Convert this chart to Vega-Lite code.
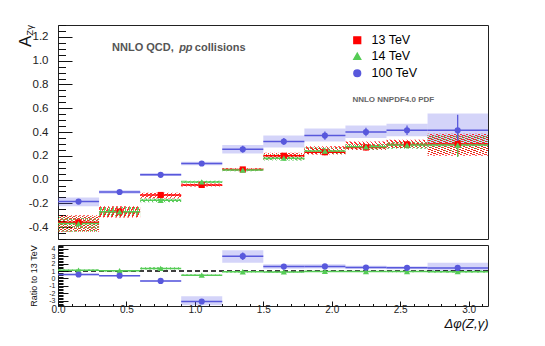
{
"$schema": "https://vega.github.io/schema/vega-lite/v6.json",
"padding": {"left": 16, "top": 24, "right": 5, "bottom": 5},
"spacing": 4,
"resolve": {"legend": {"color": "independent", "shape": "independent"}},
"config": {"view": {"stroke": "#222", "strokeWidth": 1}, "font": "Liberation Sans",
  "legend": {"orient": "none", "legendX": 293, "legendY": 9},
  "axis": {"grid": false, "labelFont": "Liberation Sans", "titleFont": "Liberation Sans", "labelColor": "#222", "tickColor": "#111", "titleColor": "#111", "titleFontWeight": "normal"}},
"data": {"values": [
{"s":"13 TeV","lo":0,"hi":0.3,"x":0.15,"v":-0.36,"elo":-0.37,"ehi":-0.35,"blo":-0.44,"bhi":-0.30},
{"s":"13 TeV","lo":0.3,"hi":0.6,"x":0.45,"v":-0.27,"elo":-0.28,"ehi":-0.26,"blo":-0.32,"bhi":-0.225},
{"s":"13 TeV","lo":0.6,"hi":0.9,"x":0.75,"v":-0.13,"elo":-0.14,"ehi":-0.12,"blo":-0.16,"bhi":-0.11},
{"s":"13 TeV","lo":0.9,"hi":1.2,"x":1.05,"v":-0.045,"elo":-0.053,"ehi":-0.037,"blo":-0.058,"bhi":-0.033},
{"s":"13 TeV","lo":1.2,"hi":1.5,"x":1.35,"v":0.085,"elo":0.075,"ehi":0.095,"blo":0.075,"bhi":0.095},
{"s":"13 TeV","lo":1.5,"hi":1.8,"x":1.65,"v":0.20,"elo":0.18,"ehi":0.22,"blo":0.17,"bhi":0.225},
{"s":"13 TeV","lo":1.8,"hi":2.1,"x":1.95,"v":0.23,"elo":0.205,"ehi":0.255,"blo":0.21,"bhi":0.28},
{"s":"13 TeV","lo":2.1,"hi":2.4,"x":2.25,"v":0.27,"elo":0.245,"ehi":0.295,"blo":0.25,"bhi":0.32},
{"s":"13 TeV","lo":2.4,"hi":2.7,"x":2.55,"v":0.295,"elo":0.265,"ehi":0.325,"blo":0.265,"bhi":0.335},
{"s":"13 TeV","lo":2.7,"hi":3.1416,"x":2.92,"v":0.30,"elo":0.21,"ehi":0.39,"blo":0.20,"bhi":0.385},
{"s":"14 TeV","lo":0,"hi":0.3,"x":0.15,"v":-0.37,"elo":-0.38,"ehi":-0.36,"blo":-0.44,"bhi":-0.31,"r":1.1,"relo":1.05,"rehi":1.15,"rblo":1.0,"rbhi":1.2},
{"s":"14 TeV","lo":0.3,"hi":0.6,"x":0.45,"v":-0.27,"elo":-0.28,"ehi":-0.26,"blo":-0.31,"bhi":-0.23,"r":1.05,"relo":1.0,"rehi":1.1,"rblo":0.95,"rbhi":1.15},
{"s":"14 TeV","lo":0.6,"hi":0.9,"x":0.75,"v":-0.175,"elo":-0.185,"ehi":-0.165,"blo":-0.19,"bhi":-0.16,"r":1.35,"relo":1.3,"rehi":1.4,"rblo":1.2,"rbhi":1.5},
{"s":"14 TeV","lo":0.9,"hi":1.2,"x":1.05,"v":-0.02,"elo":-0.028,"ehi":-0.012,"blo":-0.03,"bhi":-0.01,"r":0.45,"relo":0.4,"rehi":0.5,"rblo":0.35,"rbhi":0.55},
{"s":"14 TeV","lo":1.2,"hi":1.5,"x":1.35,"v":0.08,"elo":0.07,"ehi":0.09,"blo":0.07,"bhi":0.09,"r":0.9,"relo":0.85,"rehi":0.95,"rblo":0.82,"rbhi":0.98},
{"s":"14 TeV","lo":1.5,"hi":1.8,"x":1.65,"v":0.18,"elo":0.16,"ehi":0.20,"blo":0.16,"bhi":0.21,"r":0.88,"relo":0.8,"rehi":0.96,"rblo":0.8,"rbhi":0.98},
{"s":"14 TeV","lo":1.8,"hi":2.1,"x":1.95,"v":0.24,"elo":0.215,"ehi":0.265,"blo":0.215,"bhi":0.27,"r":0.95,"relo":0.87,"rehi":1.03,"rblo":0.87,"rbhi":1.05},
{"s":"14 TeV","lo":2.1,"hi":2.4,"x":2.25,"v":0.275,"elo":0.25,"ehi":0.30,"blo":0.25,"bhi":0.30,"r":0.93,"relo":0.86,"rehi":1.0,"rblo":0.86,"rbhi":1.02},
{"s":"14 TeV","lo":2.4,"hi":2.7,"x":2.55,"v":0.29,"elo":0.26,"ehi":0.32,"blo":0.26,"bhi":0.32,"r":0.93,"relo":0.86,"rehi":1.0,"rblo":0.85,"rbhi":1.02},
{"s":"14 TeV","lo":2.7,"hi":3.1416,"x":2.92,"v":0.29,"elo":0.19,"ehi":0.39,"blo":0.22,"bhi":0.37,"r":0.92,"relo":0.7,"rehi":1.15,"rblo":0.8,"rbhi":1.08},
{"s":"100 TeV","lo":0,"hi":0.3,"x":0.15,"v":-0.185,"elo":-0.195,"ehi":-0.175,"blo":-0.225,"bhi":-0.15,"r":0.53,"relo":0.48,"rehi":0.58,"rblo":0.4,"rbhi":0.65},
{"s":"100 TeV","lo":0.3,"hi":0.6,"x":0.45,"v":-0.105,"elo":-0.115,"ehi":-0.095,"blo":-0.12,"bhi":-0.09,"r":0.38,"relo":0.33,"rehi":0.43,"rblo":0.3,"rbhi":0.45},
{"s":"100 TeV","lo":0.6,"hi":0.9,"x":0.75,"v":0.04,"elo":0.03,"ehi":0.05,"blo":0.03,"bhi":0.055,"r":-0.33,"relo":-0.38,"rehi":-0.28,"rblo":-0.45,"rbhi":-0.25},
{"s":"100 TeV","lo":0.9,"hi":1.2,"x":1.05,"v":0.135,"elo":0.125,"ehi":0.145,"blo":0.12,"bhi":0.15,"r":-3.1,"relo":-3.3,"rehi":-2.9,"rblo":-3.6,"rbhi":-2.4},
{"s":"100 TeV","lo":1.2,"hi":1.5,"x":1.35,"v":0.255,"elo":0.225,"ehi":0.285,"blo":0.22,"bhi":0.29,"r":3.0,"relo":2.5,"rehi":3.5,"rblo":2.1,"rbhi":3.8},
{"s":"100 TeV","lo":1.5,"hi":1.8,"x":1.65,"v":0.32,"elo":0.29,"ehi":0.35,"blo":0.27,"bhi":0.37,"r":1.6,"relo":1.45,"rehi":1.75,"rblo":1.3,"rbhi":1.9},
{"s":"100 TeV","lo":1.8,"hi":2.1,"x":1.95,"v":0.37,"elo":0.335,"ehi":0.405,"blo":0.32,"bhi":0.43,"r":1.62,"relo":1.45,"rehi":1.8,"rblo":1.35,"rbhi":1.9},
{"s":"100 TeV","lo":2.1,"hi":2.4,"x":2.25,"v":0.40,"elo":0.365,"ehi":0.435,"blo":0.35,"bhi":0.455,"r":1.48,"relo":1.33,"rehi":1.63,"rblo":1.3,"rbhi":1.7},
{"s":"100 TeV","lo":2.4,"hi":2.7,"x":2.55,"v":0.415,"elo":0.375,"ehi":0.455,"blo":0.365,"bhi":0.47,"r":1.43,"relo":1.28,"rehi":1.58,"rblo":1.25,"rbhi":1.65},
{"s":"100 TeV","lo":2.7,"hi":3.1416,"x":2.92,"v":0.415,"elo":0.285,"ehi":0.545,"blo":0.28,"bhi":0.555,"r":1.42,"relo":1.1,"rehi":1.75,"rblo":1.0,"rbhi":2.1}
]},
"vconcat": [
{
 "width": 430, "height": 214,
 "resolve": {"axis": {"y": "independent", "x": "independent"}},
 "layer": [
  {"transform": [{"filter": "datum.s == '100 TeV'"}],
   "mark": {"type": "rect", "fill": "rgba(100,100,235,0.28)"},
   "encoding": {
    "x": {"field": "lo", "type": "quantitative", "scale": {"domain": [0, 3.1416], "nice": false, "zero": false}, "axis": null},
    "x2": {"field": "hi"},
    "y": {"field": "blo", "type": "quantitative", "scale": {"domain": [-0.5, 1.3], "nice": false, "zero": false},
      "axis": {"orient": "left", "values": [-0.4,-0.2,0,0.2,0.4,0.6,0.8,1,1.2], "ticks": false, "domain": false, "labelPadding": 10, "labelFontSize": 11.5, "labelExpr": "replace(datum.label, '\u2212', '-')", "title": null}},
    "y2": {"field": "bhi"}}},
  {"transform": [{"filter": "datum.s == '14 TeV'"}],
   "mark": {"type": "rect", "fill": {"gradient": "linear", "x1": 0, "y1": 0, "x2": 1, "y2": 1, "stops": [
{"offset":0,"color":"rgba(60,190,60,0.8)"},{"offset":0.0175,"color":"rgba(60,190,60,0.8)"},{"offset":0.0175,"color":"rgba(60,190,60,0)"},{"offset":0.05,"color":"rgba(60,190,60,0)"},
{"offset":0.05,"color":"rgba(60,190,60,0.8)"},{"offset":0.0675,"color":"rgba(60,190,60,0.8)"},{"offset":0.0675,"color":"rgba(60,190,60,0)"},{"offset":0.1,"color":"rgba(60,190,60,0)"},
{"offset":0.1,"color":"rgba(60,190,60,0.8)"},{"offset":0.1175,"color":"rgba(60,190,60,0.8)"},{"offset":0.1175,"color":"rgba(60,190,60,0)"},{"offset":0.15,"color":"rgba(60,190,60,0)"},
{"offset":0.15,"color":"rgba(60,190,60,0.8)"},{"offset":0.1675,"color":"rgba(60,190,60,0.8)"},{"offset":0.1675,"color":"rgba(60,190,60,0)"},{"offset":0.2,"color":"rgba(60,190,60,0)"},
{"offset":0.2,"color":"rgba(60,190,60,0.8)"},{"offset":0.2175,"color":"rgba(60,190,60,0.8)"},{"offset":0.2175,"color":"rgba(60,190,60,0)"},{"offset":0.25,"color":"rgba(60,190,60,0)"},
{"offset":0.25,"color":"rgba(60,190,60,0.8)"},{"offset":0.2675,"color":"rgba(60,190,60,0.8)"},{"offset":0.2675,"color":"rgba(60,190,60,0)"},{"offset":0.3,"color":"rgba(60,190,60,0)"},
{"offset":0.3,"color":"rgba(60,190,60,0.8)"},{"offset":0.3175,"color":"rgba(60,190,60,0.8)"},{"offset":0.3175,"color":"rgba(60,190,60,0)"},{"offset":0.35,"color":"rgba(60,190,60,0)"},
{"offset":0.35,"color":"rgba(60,190,60,0.8)"},{"offset":0.3675,"color":"rgba(60,190,60,0.8)"},{"offset":0.3675,"color":"rgba(60,190,60,0)"},{"offset":0.4,"color":"rgba(60,190,60,0)"},
{"offset":0.4,"color":"rgba(60,190,60,0.8)"},{"offset":0.4175,"color":"rgba(60,190,60,0.8)"},{"offset":0.4175,"color":"rgba(60,190,60,0)"},{"offset":0.45,"color":"rgba(60,190,60,0)"},
{"offset":0.45,"color":"rgba(60,190,60,0.8)"},{"offset":0.4675,"color":"rgba(60,190,60,0.8)"},{"offset":0.4675,"color":"rgba(60,190,60,0)"},{"offset":0.5,"color":"rgba(60,190,60,0)"},
{"offset":0.5,"color":"rgba(60,190,60,0.8)"},{"offset":0.5175,"color":"rgba(60,190,60,0.8)"},{"offset":0.5175,"color":"rgba(60,190,60,0)"},{"offset":0.55,"color":"rgba(60,190,60,0)"},
{"offset":0.55,"color":"rgba(60,190,60,0.8)"},{"offset":0.5675,"color":"rgba(60,190,60,0.8)"},{"offset":0.5675,"color":"rgba(60,190,60,0)"},{"offset":0.6,"color":"rgba(60,190,60,0)"},
{"offset":0.6,"color":"rgba(60,190,60,0.8)"},{"offset":0.6175,"color":"rgba(60,190,60,0.8)"},{"offset":0.6175,"color":"rgba(60,190,60,0)"},{"offset":0.65,"color":"rgba(60,190,60,0)"},
{"offset":0.65,"color":"rgba(60,190,60,0.8)"},{"offset":0.6675,"color":"rgba(60,190,60,0.8)"},{"offset":0.6675,"color":"rgba(60,190,60,0)"},{"offset":0.7,"color":"rgba(60,190,60,0)"},
{"offset":0.7,"color":"rgba(60,190,60,0.8)"},{"offset":0.7175,"color":"rgba(60,190,60,0.8)"},{"offset":0.7175,"color":"rgba(60,190,60,0)"},{"offset":0.75,"color":"rgba(60,190,60,0)"},
{"offset":0.75,"color":"rgba(60,190,60,0.8)"},{"offset":0.7675,"color":"rgba(60,190,60,0.8)"},{"offset":0.7675,"color":"rgba(60,190,60,0)"},{"offset":0.8,"color":"rgba(60,190,60,0)"},
{"offset":0.8,"color":"rgba(60,190,60,0.8)"},{"offset":0.8175,"color":"rgba(60,190,60,0.8)"},{"offset":0.8175,"color":"rgba(60,190,60,0)"},{"offset":0.85,"color":"rgba(60,190,60,0)"},
{"offset":0.85,"color":"rgba(60,190,60,0.8)"},{"offset":0.8675,"color":"rgba(60,190,60,0.8)"},{"offset":0.8675,"color":"rgba(60,190,60,0)"},{"offset":0.9,"color":"rgba(60,190,60,0)"},
{"offset":0.9,"color":"rgba(60,190,60,0.8)"},{"offset":0.9175,"color":"rgba(60,190,60,0.8)"},{"offset":0.9175,"color":"rgba(60,190,60,0)"},{"offset":0.95,"color":"rgba(60,190,60,0)"},
{"offset":0.95,"color":"rgba(60,190,60,0.8)"},{"offset":0.9675,"color":"rgba(60,190,60,0.8)"},{"offset":0.9675,"color":"rgba(60,190,60,0)"},{"offset":1,"color":"rgba(60,190,60,0)"}
]}},
   "encoding": {
    "x": {"field": "lo", "type": "quantitative", "scale": {"domain": [0, 3.1416], "nice": false, "zero": false}, "axis": null},
    "x2": {"field": "hi"},
    "y": {"field": "blo", "type": "quantitative", "scale": {"domain": [-0.5, 1.3], "nice": false, "zero": false},
      "axis": {"orient": "left", "values": [-0.4,-0.2,0,0.2,0.4,0.6,0.8,1,1.2], "labels": false, "domain": false, "ticks": true, "tickSize": 14, "tickColor": "#111", "offset": -14, "title": null}},
    "y2": {"field": "bhi"}}},
  {"transform": [{"filter": "datum.s == '13 TeV'"}],
   "mark": {"type": "rect", "fill": {"gradient": "linear", "x1": 0, "y1": 1, "x2": 1, "y2": 0, "stops": [
{"offset":0,"color":"rgba(255,0,0,0.8)"},{"offset":0.0175,"color":"rgba(255,0,0,0.8)"},{"offset":0.0175,"color":"rgba(255,0,0,0)"},{"offset":0.05,"color":"rgba(255,0,0,0)"},
{"offset":0.05,"color":"rgba(255,0,0,0.8)"},{"offset":0.0675,"color":"rgba(255,0,0,0.8)"},{"offset":0.0675,"color":"rgba(255,0,0,0)"},{"offset":0.1,"color":"rgba(255,0,0,0)"},
{"offset":0.1,"color":"rgba(255,0,0,0.8)"},{"offset":0.1175,"color":"rgba(255,0,0,0.8)"},{"offset":0.1175,"color":"rgba(255,0,0,0)"},{"offset":0.15,"color":"rgba(255,0,0,0)"},
{"offset":0.15,"color":"rgba(255,0,0,0.8)"},{"offset":0.1675,"color":"rgba(255,0,0,0.8)"},{"offset":0.1675,"color":"rgba(255,0,0,0)"},{"offset":0.2,"color":"rgba(255,0,0,0)"},
{"offset":0.2,"color":"rgba(255,0,0,0.8)"},{"offset":0.2175,"color":"rgba(255,0,0,0.8)"},{"offset":0.2175,"color":"rgba(255,0,0,0)"},{"offset":0.25,"color":"rgba(255,0,0,0)"},
{"offset":0.25,"color":"rgba(255,0,0,0.8)"},{"offset":0.2675,"color":"rgba(255,0,0,0.8)"},{"offset":0.2675,"color":"rgba(255,0,0,0)"},{"offset":0.3,"color":"rgba(255,0,0,0)"},
{"offset":0.3,"color":"rgba(255,0,0,0.8)"},{"offset":0.3175,"color":"rgba(255,0,0,0.8)"},{"offset":0.3175,"color":"rgba(255,0,0,0)"},{"offset":0.35,"color":"rgba(255,0,0,0)"},
{"offset":0.35,"color":"rgba(255,0,0,0.8)"},{"offset":0.3675,"color":"rgba(255,0,0,0.8)"},{"offset":0.3675,"color":"rgba(255,0,0,0)"},{"offset":0.4,"color":"rgba(255,0,0,0)"},
{"offset":0.4,"color":"rgba(255,0,0,0.8)"},{"offset":0.4175,"color":"rgba(255,0,0,0.8)"},{"offset":0.4175,"color":"rgba(255,0,0,0)"},{"offset":0.45,"color":"rgba(255,0,0,0)"},
{"offset":0.45,"color":"rgba(255,0,0,0.8)"},{"offset":0.4675,"color":"rgba(255,0,0,0.8)"},{"offset":0.4675,"color":"rgba(255,0,0,0)"},{"offset":0.5,"color":"rgba(255,0,0,0)"},
{"offset":0.5,"color":"rgba(255,0,0,0.8)"},{"offset":0.5175,"color":"rgba(255,0,0,0.8)"},{"offset":0.5175,"color":"rgba(255,0,0,0)"},{"offset":0.55,"color":"rgba(255,0,0,0)"},
{"offset":0.55,"color":"rgba(255,0,0,0.8)"},{"offset":0.5675,"color":"rgba(255,0,0,0.8)"},{"offset":0.5675,"color":"rgba(255,0,0,0)"},{"offset":0.6,"color":"rgba(255,0,0,0)"},
{"offset":0.6,"color":"rgba(255,0,0,0.8)"},{"offset":0.6175,"color":"rgba(255,0,0,0.8)"},{"offset":0.6175,"color":"rgba(255,0,0,0)"},{"offset":0.65,"color":"rgba(255,0,0,0)"},
{"offset":0.65,"color":"rgba(255,0,0,0.8)"},{"offset":0.6675,"color":"rgba(255,0,0,0.8)"},{"offset":0.6675,"color":"rgba(255,0,0,0)"},{"offset":0.7,"color":"rgba(255,0,0,0)"},
{"offset":0.7,"color":"rgba(255,0,0,0.8)"},{"offset":0.7175,"color":"rgba(255,0,0,0.8)"},{"offset":0.7175,"color":"rgba(255,0,0,0)"},{"offset":0.75,"color":"rgba(255,0,0,0)"},
{"offset":0.75,"color":"rgba(255,0,0,0.8)"},{"offset":0.7675,"color":"rgba(255,0,0,0.8)"},{"offset":0.7675,"color":"rgba(255,0,0,0)"},{"offset":0.8,"color":"rgba(255,0,0,0)"},
{"offset":0.8,"color":"rgba(255,0,0,0.8)"},{"offset":0.8175,"color":"rgba(255,0,0,0.8)"},{"offset":0.8175,"color":"rgba(255,0,0,0)"},{"offset":0.85,"color":"rgba(255,0,0,0)"},
{"offset":0.85,"color":"rgba(255,0,0,0.8)"},{"offset":0.8675,"color":"rgba(255,0,0,0.8)"},{"offset":0.8675,"color":"rgba(255,0,0,0)"},{"offset":0.9,"color":"rgba(255,0,0,0)"},
{"offset":0.9,"color":"rgba(255,0,0,0.8)"},{"offset":0.9175,"color":"rgba(255,0,0,0.8)"},{"offset":0.9175,"color":"rgba(255,0,0,0)"},{"offset":0.95,"color":"rgba(255,0,0,0)"},
{"offset":0.95,"color":"rgba(255,0,0,0.8)"},{"offset":0.9675,"color":"rgba(255,0,0,0.8)"},{"offset":0.9675,"color":"rgba(255,0,0,0)"},{"offset":1,"color":"rgba(255,0,0,0)"}
]}},
   "encoding": {
    "x": {"field": "lo", "type": "quantitative", "scale": {"domain": [0, 3.1416], "nice": false, "zero": false}, "axis": null},
    "x2": {"field": "hi"},
    "y": {"field": "blo", "type": "quantitative", "scale": {"domain": [-0.5, 1.3], "nice": false, "zero": false},
      "axis": {"orient": "left", "values": [-0.5,-0.45,-0.4,-0.35,-0.3,-0.25,-0.2,-0.15,-0.1,-0.05,0,0.05,0.1,0.15,0.2,0.25,0.3,0.35,0.4,0.45,0.5,0.55,0.6,0.65,0.7,0.75,0.8,0.85,0.9,0.95,1,1.05,1.1,1.15,1.2,1.25,1.3], "labels": false, "domain": false, "ticks": true, "tickSize": 7.5, "tickColor": "#111", "offset": -7.5, "title": null}},
    "y2": {"field": "bhi"}}},
  {"mark": {"type": "rule", "strokeWidth": 1.5},
   "encoding": {
    "x": {"field": "lo", "type": "quantitative", "scale": {"domain": [0, 3.1416], "nice": false, "zero": false}, "axis": null},
    "x2": {"field": "hi"},
    "y": {"field": "v", "type": "quantitative", "scale": {"domain": [-0.5, 1.3], "nice": false, "zero": false}, "axis": null},
    "color": {"field": "s", "type": "nominal", "scale": {"domain": ["13 TeV", "14 TeV", "100 TeV"], "range": ["#ff0000", "#55cc55", "#5858dc"]}}}},
  {"mark": {"type": "rule", "strokeWidth": 1.3},
   "encoding": {
    "x": {"field": "x", "type": "quantitative", "scale": {"domain": [0, 3.1416], "nice": false, "zero": false}, "axis": null},
    "y": {"field": "elo", "type": "quantitative", "scale": {"domain": [-0.5, 1.3], "nice": false, "zero": false}, "axis": null},
    "y2": {"field": "ehi"},
    "color": {"field": "s", "type": "nominal", "scale": {"domain": ["13 TeV", "14 TeV", "100 TeV"], "range": ["#ff0000", "#55cc55", "#5858dc"]}}}},
  {"mark": {"type": "point", "filled": true, "size": 38, "opacity": 1},
   "encoding": {
    "x": {"field": "x", "type": "quantitative", "scale": {"domain": [0, 3.1416], "nice": false, "zero": false}, "axis": null},
    "y": {"field": "v", "type": "quantitative", "scale": {"domain": [-0.5, 1.3], "nice": false, "zero": false}, "axis": null},
    "color": {"field": "s", "type": "nominal", "scale": {"domain": ["13 TeV", "14 TeV", "100 TeV"], "range": ["#ff0000", "#55cc55", "#5858dc"]},
      "legend": {"orient": "none", "legendX": 293, "legendY": 9, "title": null, "labelFontSize": 12.5, "labelFont": "Liberation Sans", "labelColor": "#000", "symbolSize": 45, "rowPadding": 3, "labelOffset": 8}},
    "shape": {"field": "s", "type": "nominal", "scale": {"domain": ["13 TeV", "14 TeV", "100 TeV"], "range": ["square", "triangle-up", "circle"]},
      "legend": {"orient": "none", "legendX": 293, "legendY": 9, "title": null, "labelFontSize": 12.5, "labelFont": "Liberation Sans", "labelColor": "#000", "symbolSize": 45, "rowPadding": 3, "labelOffset": 8}}}},
  {"data": {"values": [{"t": "NNLO QCD,"}]},
   "mark": {"type": "text", "align": "left", "baseline": "middle", "fontSize": 11, "fontWeight": "bold", "color": "#555"},
   "encoding": {"text": {"field": "t"},
    "x": {"datum": 0.395, "type": "quantitative", "scale": {"domain": [0, 3.1416], "nice": false, "zero": false}, "axis": null},
    "y": {"datum": 1.105, "type": "quantitative", "scale": {"domain": [-0.5, 1.3], "nice": false, "zero": false}, "axis": null}}},
  {"data": {"values": [{"t": "pp"}]},
   "mark": {"type": "text", "align": "left", "baseline": "middle", "fontSize": 11, "fontWeight": "bold", "fontStyle": "italic", "color": "#555"},
   "encoding": {"text": {"field": "t"},
    "x": {"datum": 0.885, "type": "quantitative", "scale": {"domain": [0, 3.1416], "nice": false, "zero": false}, "axis": null},
    "y": {"datum": 1.105, "type": "quantitative", "scale": {"domain": [-0.5, 1.3], "nice": false, "zero": false}, "axis": null}}},
  {"data": {"values": [{"t": "collisions"}]},
   "mark": {"type": "text", "align": "left", "baseline": "middle", "fontSize": 11, "fontWeight": "bold", "color": "#555"},
   "encoding": {"text": {"field": "t"},
    "x": {"datum": 1.0, "type": "quantitative", "scale": {"domain": [0, 3.1416], "nice": false, "zero": false}, "axis": null},
    "y": {"datum": 1.105, "type": "quantitative", "scale": {"domain": [-0.5, 1.3], "nice": false, "zero": false}, "axis": null}}},
  {"data": {"values": [{"t": "NNLO NNPDF4.0 PDF"}]},
   "mark": {"type": "text", "align": "left", "baseline": "middle", "fontSize": 8, "fontWeight": "bold", "color": "#666"},
   "encoding": {"text": {"field": "t"},
    "x": {"datum": 2.151, "type": "quantitative", "scale": {"domain": [0, 3.1416], "nice": false, "zero": false}, "axis": null},
    "y": {"datum": 0.671, "type": "quantitative", "scale": {"domain": [-0.5, 1.3], "nice": false, "zero": false}, "axis": null}}},
  {"data": {"values": [{"t": "A"}]},
   "mark": {"type": "text", "align": "center", "baseline": "middle", "fontSize": 17, "angle": 270, "color": "#111"},
   "encoding": {"text": {"field": "t"},
    "x": {"datum": -0.235, "type": "quantitative", "scale": {"domain": [0, 3.1416], "nice": false, "zero": false}, "axis": null},
    "y": {"datum": 1.163, "type": "quantitative", "scale": {"domain": [-0.5, 1.3], "nice": false, "zero": false}, "axis": null}}},
  {"data": {"values": [{"t": "Zγ"}]},
   "mark": {"type": "text", "align": "center", "baseline": "middle", "fontSize": 9.5, "angle": 270, "color": "#111"},
   "encoding": {"text": {"field": "t"},
    "x": {"datum": -0.208, "type": "quantitative", "scale": {"domain": [0, 3.1416], "nice": false, "zero": false}, "axis": null},
    "y": {"datum": 1.255, "type": "quantitative", "scale": {"domain": [-0.5, 1.3], "nice": false, "zero": false}, "axis": null}}}
 ]
},
{
 "width": 430, "height": 61,
 "resolve": {"axis": {"y": "independent", "x": "independent"}},
 "transform": [{"filter": "datum.s != '13 TeV'"}],
 "layer": [
  {"transform": [{"filter": "datum.s == '100 TeV'"}],
   "mark": {"type": "rect", "fill": "rgba(100,100,235,0.28)", "clip": true},
   "encoding": {
    "x": {"field": "lo", "type": "quantitative", "scale": {"domain": [0, 3.1416], "nice": false, "zero": false},
      "axis": {"orient": "bottom", "values": [0, 0.5, 1, 1.5, 2, 2.5, 3], "ticks": false, "domain": false, "labelPadding": -2, "labelFontSize": 10, "labelFlush": false, "title": "Δφ(Z,γ)", "titleFontStyle": "italic", "titleFontSize": 13, "titleAnchor": "end", "titlePadding": 3}},
    "x2": {"field": "hi"},
    "y": {"field": "rblo", "type": "quantitative", "scale": {"domain": [-3.7, 4.5], "nice": false, "zero": false},
      "axis": {"orient": "left", "values": [-3,-2,-1,0,1,2,3,4], "ticks": false, "domain": false, "labelPadding": 3, "labelFontSize": 7, "labelOverlap": false, "labelExpr": "replace(datum.label, '\u2212', '-')", "title": "Ratio to 13 TeV", "titleFontSize": 9, "titlePadding": 10}},
    "y2": {"field": "rbhi"}}},
  {"transform": [{"filter": "datum.s == '14 TeV'"}],
   "mark": {"type": "rect", "clip": true, "fill": {"gradient": "linear", "x1": 0, "y1": 0, "x2": 1, "y2": 1, "stops": [
{"offset":0,"color":"rgba(60,190,60,0.8)"},{"offset":0.0175,"color":"rgba(60,190,60,0.8)"},{"offset":0.0175,"color":"rgba(60,190,60,0)"},{"offset":0.05,"color":"rgba(60,190,60,0)"},
{"offset":0.05,"color":"rgba(60,190,60,0.8)"},{"offset":0.0675,"color":"rgba(60,190,60,0.8)"},{"offset":0.0675,"color":"rgba(60,190,60,0)"},{"offset":0.1,"color":"rgba(60,190,60,0)"},
{"offset":0.1,"color":"rgba(60,190,60,0.8)"},{"offset":0.1175,"color":"rgba(60,190,60,0.8)"},{"offset":0.1175,"color":"rgba(60,190,60,0)"},{"offset":0.15,"color":"rgba(60,190,60,0)"},
{"offset":0.15,"color":"rgba(60,190,60,0.8)"},{"offset":0.1675,"color":"rgba(60,190,60,0.8)"},{"offset":0.1675,"color":"rgba(60,190,60,0)"},{"offset":0.2,"color":"rgba(60,190,60,0)"},
{"offset":0.2,"color":"rgba(60,190,60,0.8)"},{"offset":0.2175,"color":"rgba(60,190,60,0.8)"},{"offset":0.2175,"color":"rgba(60,190,60,0)"},{"offset":0.25,"color":"rgba(60,190,60,0)"},
{"offset":0.25,"color":"rgba(60,190,60,0.8)"},{"offset":0.2675,"color":"rgba(60,190,60,0.8)"},{"offset":0.2675,"color":"rgba(60,190,60,0)"},{"offset":0.3,"color":"rgba(60,190,60,0)"},
{"offset":0.3,"color":"rgba(60,190,60,0.8)"},{"offset":0.3175,"color":"rgba(60,190,60,0.8)"},{"offset":0.3175,"color":"rgba(60,190,60,0)"},{"offset":0.35,"color":"rgba(60,190,60,0)"},
{"offset":0.35,"color":"rgba(60,190,60,0.8)"},{"offset":0.3675,"color":"rgba(60,190,60,0.8)"},{"offset":0.3675,"color":"rgba(60,190,60,0)"},{"offset":0.4,"color":"rgba(60,190,60,0)"},
{"offset":0.4,"color":"rgba(60,190,60,0.8)"},{"offset":0.4175,"color":"rgba(60,190,60,0.8)"},{"offset":0.4175,"color":"rgba(60,190,60,0)"},{"offset":0.45,"color":"rgba(60,190,60,0)"},
{"offset":0.45,"color":"rgba(60,190,60,0.8)"},{"offset":0.4675,"color":"rgba(60,190,60,0.8)"},{"offset":0.4675,"color":"rgba(60,190,60,0)"},{"offset":0.5,"color":"rgba(60,190,60,0)"},
{"offset":0.5,"color":"rgba(60,190,60,0.8)"},{"offset":0.5175,"color":"rgba(60,190,60,0.8)"},{"offset":0.5175,"color":"rgba(60,190,60,0)"},{"offset":0.55,"color":"rgba(60,190,60,0)"},
{"offset":0.55,"color":"rgba(60,190,60,0.8)"},{"offset":0.5675,"color":"rgba(60,190,60,0.8)"},{"offset":0.5675,"color":"rgba(60,190,60,0)"},{"offset":0.6,"color":"rgba(60,190,60,0)"},
{"offset":0.6,"color":"rgba(60,190,60,0.8)"},{"offset":0.6175,"color":"rgba(60,190,60,0.8)"},{"offset":0.6175,"color":"rgba(60,190,60,0)"},{"offset":0.65,"color":"rgba(60,190,60,0)"},
{"offset":0.65,"color":"rgba(60,190,60,0.8)"},{"offset":0.6675,"color":"rgba(60,190,60,0.8)"},{"offset":0.6675,"color":"rgba(60,190,60,0)"},{"offset":0.7,"color":"rgba(60,190,60,0)"},
{"offset":0.7,"color":"rgba(60,190,60,0.8)"},{"offset":0.7175,"color":"rgba(60,190,60,0.8)"},{"offset":0.7175,"color":"rgba(60,190,60,0)"},{"offset":0.75,"color":"rgba(60,190,60,0)"},
{"offset":0.75,"color":"rgba(60,190,60,0.8)"},{"offset":0.7675,"color":"rgba(60,190,60,0.8)"},{"offset":0.7675,"color":"rgba(60,190,60,0)"},{"offset":0.8,"color":"rgba(60,190,60,0)"},
{"offset":0.8,"color":"rgba(60,190,60,0.8)"},{"offset":0.8175,"color":"rgba(60,190,60,0.8)"},{"offset":0.8175,"color":"rgba(60,190,60,0)"},{"offset":0.85,"color":"rgba(60,190,60,0)"},
{"offset":0.85,"color":"rgba(60,190,60,0.8)"},{"offset":0.8675,"color":"rgba(60,190,60,0.8)"},{"offset":0.8675,"color":"rgba(60,190,60,0)"},{"offset":0.9,"color":"rgba(60,190,60,0)"},
{"offset":0.9,"color":"rgba(60,190,60,0.8)"},{"offset":0.9175,"color":"rgba(60,190,60,0.8)"},{"offset":0.9175,"color":"rgba(60,190,60,0)"},{"offset":0.95,"color":"rgba(60,190,60,0)"},
{"offset":0.95,"color":"rgba(60,190,60,0.8)"},{"offset":0.9675,"color":"rgba(60,190,60,0.8)"},{"offset":0.9675,"color":"rgba(60,190,60,0)"},{"offset":1,"color":"rgba(60,190,60,0)"}
]}},
   "encoding": {
    "x": {"field": "lo", "type": "quantitative", "scale": {"domain": [0, 3.1416], "nice": false, "zero": false},
      "axis": {"orient": "bottom", "values": [0, 0.5, 1, 1.5, 2, 2.5, 3], "labels": false, "domain": false, "ticks": true, "tickSize": 5, "tickColor": "#111", "offset": -5, "title": null}},
    "x2": {"field": "hi"},
    "y": {"field": "rblo", "type": "quantitative", "scale": {"domain": [-3.7, 4.5], "nice": false, "zero": false},
      "axis": {"orient": "left", "values": [-3,-2,-1,0,1,2,3,4], "labels": false, "domain": false, "ticks": true, "tickSize": 10, "tickColor": "#111", "offset": -10, "title": null}},
    "y2": {"field": "rbhi"}}},
  {"data": {"values": [{"ref": 1}]},
   "mark": {"type": "rule", "strokeDash": [5, 3], "color": "#000", "strokeWidth": 1.5},
   "encoding": {
    "y": {"field": "ref", "type": "quantitative", "scale": {"domain": [-3.7, 4.5], "nice": false, "zero": false}, "axis": null}}},
  {"mark": {"type": "rule", "strokeWidth": 1.5, "clip": true},
   "encoding": {
    "x": {"field": "lo", "type": "quantitative", "scale": {"domain": [0, 3.1416], "nice": false, "zero": false},
      "axis": {"orient": "bottom", "values": [0,0.1,0.2,0.3,0.4,0.5,0.6,0.7,0.8,0.9,1,1.1,1.2,1.3,1.4,1.5,1.6,1.7,1.8,1.9,2,2.1,2.2,2.3,2.4,2.5,2.6,2.7,2.8,2.9,3,3.1], "labels": false, "domain": false, "ticks": true, "tickSize": 2.5, "tickColor": "#111", "offset": -2.5, "title": null}},
    "x2": {"field": "hi"},
    "y": {"field": "r", "type": "quantitative", "scale": {"domain": [-3.7, 4.5], "nice": false, "zero": false},
      "axis": {"orient": "left", "values": [-3.6,-3.4,-3.2,-3,-2.8,-2.6,-2.4,-2.2,-2,-1.8,-1.6,-1.4,-1.2,-1,-0.8,-0.6,-0.4,-0.2,0,0.2,0.4,0.6,0.8,1,1.2,1.4,1.6,1.8,2,2.2,2.4,2.6,2.8,3,3.2,3.4,3.6,3.8,4,4.2,4.4], "labels": false, "domain": false, "ticks": true, "tickSize": 5, "tickColor": "#111", "offset": -5, "title": null}},
    "color": {"field": "s", "type": "nominal", "scale": {"domain": ["13 TeV", "14 TeV", "100 TeV"], "range": ["#ff0000", "#55cc55", "#5858dc"]}, "legend": null}}},
  {"mark": {"type": "rule", "strokeWidth": 1.3, "clip": true},
   "encoding": {
    "x": {"field": "x", "type": "quantitative", "scale": {"domain": [0, 3.1416], "nice": false, "zero": false}, "axis": null},
    "y": {"field": "relo", "type": "quantitative", "scale": {"domain": [-3.7, 4.5], "nice": false, "zero": false}, "axis": null},
    "y2": {"field": "rehi"},
    "color": {"field": "s", "type": "nominal", "scale": {"domain": ["13 TeV", "14 TeV", "100 TeV"], "range": ["#ff0000", "#55cc55", "#5858dc"]}, "legend": null}}},
  {"mark": {"type": "point", "filled": true, "size": 38, "opacity": 1, "clip": true},
   "encoding": {
    "x": {"field": "x", "type": "quantitative", "scale": {"domain": [0, 3.1416], "nice": false, "zero": false}, "axis": null},
    "y": {"field": "r", "type": "quantitative", "scale": {"domain": [-3.7, 4.5], "nice": false, "zero": false}, "axis": null},
    "color": {"field": "s", "type": "nominal", "scale": {"domain": ["13 TeV", "14 TeV", "100 TeV"], "range": ["#ff0000", "#55cc55", "#5858dc"]}, "legend": null},
    "shape": {"field": "s", "type": "nominal", "scale": {"domain": ["13 TeV", "14 TeV", "100 TeV"], "range": ["square", "triangle-up", "circle"]}, "legend": null}}}
 ]
}
]
}
